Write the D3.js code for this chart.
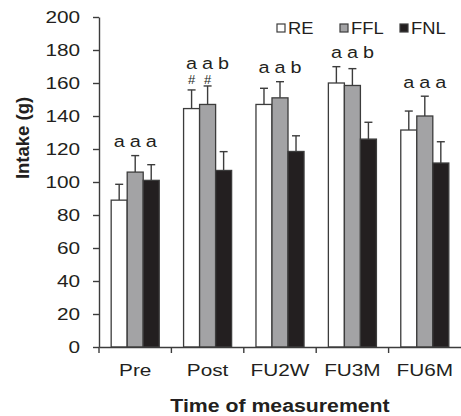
<!DOCTYPE html>
<html>
<head>
<meta charset="utf-8">
<script src="https://cdn.jsdelivr.net/npm/d3@7"></script>
<style>
  body { margin: 0; background: #fff; }
  text { font-family: "Liberation Sans", Arial, sans-serif; fill: #231f20; }
</style>
</head>
<body>
<script>
// data
var categories = ["Pre", "Post", "FU2W", "FU3M", "FU6M"];
var series = ["RE", "FFL", "FNL"];
var reMean = [89, 144.5, 147, 160, 131.5];
var reErr = [9.6, 11.3, 9.8, 9.9, 11.5];
var fflMean = [106, 147, 151, 158.5, 140];
var fflErr = [10, 11.2, 9.8, 10.2, 12];
var fnlMean = [101, 107, 118.5, 126, 111.5];
var fnlErr = [9.5, 11.4, 9.5, 10.2, 12.9];
var letters = [["a", "a", "a"], ["a", "a", "b"], ["a", "a", "b"], ["a", "a", "b"], ["a", "a", "a"]];
var hashes = [["", "", ""], ["#", "#", ""], ["", "", ""], ["", "", ""], ["", "", ""]];
var yTicks = [0, 20, 40, 60, 80, 100, 120, 140, 160, 180, 200];

var w = 461, h = 416;
var fills = {RE: "#ffffff", FFL: "#a3a3a5", FNL: "#231f20"};
var ink = "#3c3c3c";

var means = {RE: reMean, FFL: fflMean, FNL: fnlMean};
var errs = {RE: reErr, FFL: fflErr, FNL: fnlErr};

var svg = d3.select("body")
    .append("svg")
    .attr("width", w)
    .attr("height", h);

var x = d3.scaleBand()
    .domain(categories)
    .range([99, 461]);

var x1 = d3.scaleBand()
    .domain(series)
    .range([0, x.bandwidth()])
    .paddingOuter(0.76);

var y = d3.scaleLinear()
    .domain([0, 200])
    .range([347, 17]);

// flat list of bars
var bars = [];
categories.forEach(function(c, i){
    series.forEach(function(s, j){
        bars.push({cat: c, s: s, v: means[s][i], e: errs[s][i], letter: letters[i][j], hash: hashes[i][j], gi: i});
    });
});

// error bars (upper only), drawn behind the bars
var eb = svg.append("g").attr("class", "errors")
    .selectAll("g")
    .data(bars)
    .enter()
    .append("g")
    .attr("transform", function(d){ return "translate(" + (x(d.cat) + x1(d.s) + x1.bandwidth() / 2) + ",0)"; });

eb.append("line")
    .attr("y1", function(d){ return y(d.v); })
    .attr("y2", function(d){ return y(d.v + d.e); })
    .attr("stroke", ink)
    .attr("stroke-width", 1.4);

eb.append("line")
    .attr("x1", -4).attr("x2", 4)
    .attr("y1", function(d){ return y(d.v + d.e); })
    .attr("y2", function(d){ return y(d.v + d.e); })
    .attr("stroke", ink)
    .attr("stroke-width", 1.4);

svg.append("g").attr("class", "bars")
    .selectAll("rect")
    .data(bars)
    .enter()
    .append("rect")
    .attr("x", function(d){ return x(d.cat) + x1(d.s); })
    .attr("y", function(d){ return y(d.v); })
    .attr("width", x1.bandwidth())
    .attr("height", function(d){ return y(0) - y(d.v); })
    .attr("fill", function(d){ return fills[d.s]; })
    .attr("stroke", ink)
    .attr("stroke-width", 1.3);

// top of each group's error bars, for the letter labels
var groupTop = categories.map(function(c, i){
    return d3.max(series, function(s){ return means[s][i] + errs[s][i]; });
});
var hasHash = hashes.map(function(r){ return r.some(function(v){ return v !== ""; }); });

var labels = svg.append("g").attr("class", "letters")
    .selectAll("g")
    .data(bars)
    .enter()
    .append("g")
    .attr("transform", function(d){ return "translate(" + (x(d.cat) + x1(d.s) + x1.bandwidth() / 2) + ",0)"; });

labels.append("text")
    .attr("text-anchor", "middle")
    .attr("font-size", 16.5)
    .attr("transform", function(d){
        var cy = y(groupTop[d.gi]) - (hasHash[d.gi] ? 21 : 13);
        return "translate(0," + (cy + 4.3) + ") scale(1.2,1)";
    })
    .text(function(d){ return d.letter; });

labels.filter(function(d){ return d.hash !== ""; })
    .append("text")
    .attr("text-anchor", "middle")
    .attr("font-size", 13)
    .attr("transform", function(d){
        return "translate(0," + (y(groupTop[d.gi]) - 6 + 4.5) + ")";
    })
    .text(function(d){ return d.hash; });

// y axis
var yAxis = svg.append("g")
    .attr("transform", "translate(99,0)")
    .call(d3.axisLeft(y).tickValues(yTicks).tickSize(6).tickSizeOuter(0).tickPadding(9));
yAxis.selectAll("path, line").attr("stroke", ink).attr("stroke-width", 1.4);
yAxis.selectAll("text")
    .attr("font-size", 16.5)
    .attr("font-family", "Liberation Sans, Arial, sans-serif")
    .attr("fill", "#231f20")
    .attr("transform", "scale(1.26,1)");

// x axis: labels at band centres, ticks at band edges
var xAxis = svg.append("g")
    .attr("transform", "translate(0," + y(0) + ")")
    .call(d3.axisBottom(x).tickSize(0).tickPadding(17).tickSizeOuter(0));
xAxis.select("path").attr("stroke", ink).attr("stroke-width", 1.4);
xAxis.selectAll("text")
    .attr("font-size", 16.5)
    .attr("font-family", "Liberation Sans, Arial, sans-serif")
    .attr("fill", "#231f20")
    .attr("transform", "scale(1.26,1)");
xAxis.selectAll(".edge")
    .data(categories)
    .enter()
    .append("line")
    .attr("class", "edge")
    .attr("x1", function(d){ return x(d); })
    .attr("x2", function(d){ return x(d); })
    .attr("y1", 0).attr("y2", 6)
    .attr("stroke", ink)
    .attr("stroke-width", 1.4);

// legend
var legendX = [277, 340, 400];
var legend = svg.append("g").attr("class", "legend")
    .selectAll("g")
    .data(series)
    .enter()
    .append("g")
    .attr("transform", function(d, i){ return "translate(" + legendX[i] + ",28)"; });

legend.append("rect")
    .attr("x", 0).attr("y", -4)
    .attr("width", 8).attr("height", 8)
    .attr("fill", function(d){ return fills[d]; })
    .attr("stroke", ink)
    .attr("stroke-width", 1.2);

legend.append("text")
    .attr("transform", "translate(11,5.5) scale(1.15,1)")
    .attr("font-size", 16)
    .text(function(d){ return d; });

// axis titles
svg.append("text")
    .attr("transform", "translate(29,138) rotate(-90)")
    .attr("text-anchor", "middle")
    .attr("font-size", 18.5)
    .attr("font-weight", "bold")
    .text("Intake (g)");

svg.append("text")
    .attr("transform", "translate(280,411.5) scale(1.15,1)")
    .attr("text-anchor", "middle")
    .attr("font-size", 18.5)
    .attr("font-weight", "bold")
    .text("Time of measurement");
</script>
</body>
</html>
